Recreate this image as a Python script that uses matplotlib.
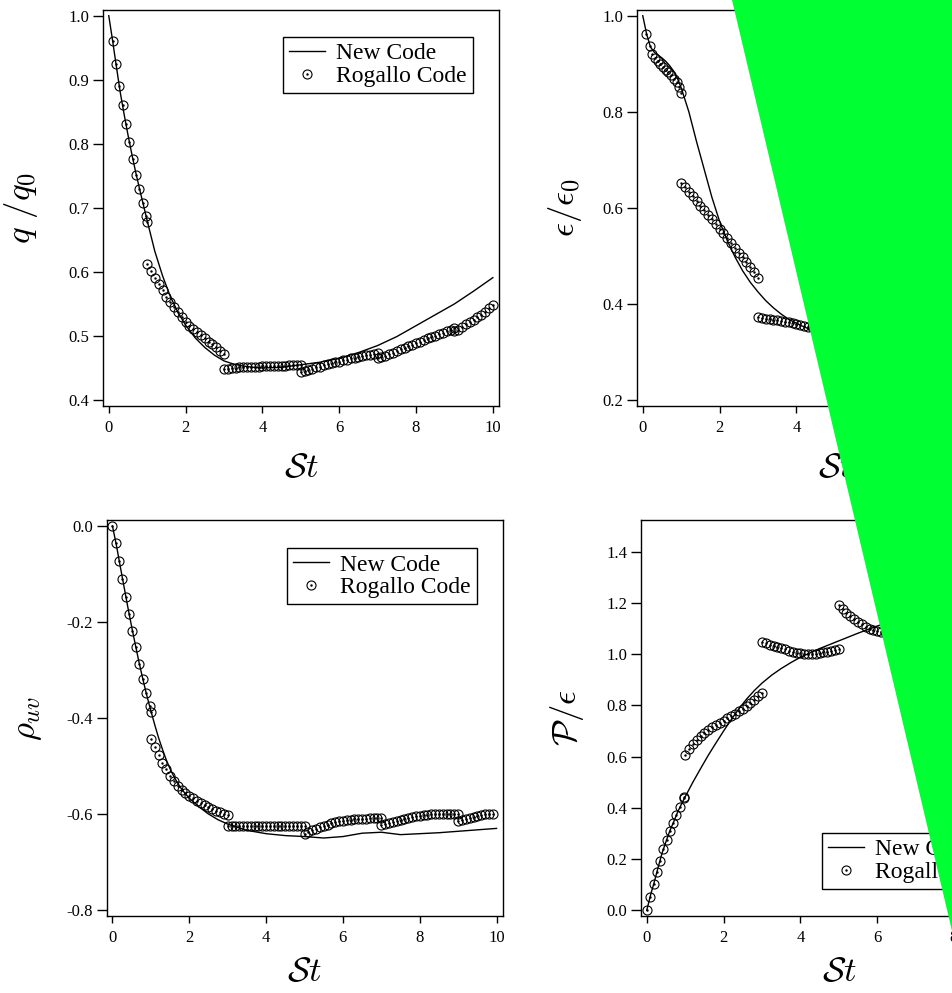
import matplotlib

matplotlib.use("Agg")
import matplotlib.pyplot as plt
from matplotlib.legend_handler import HandlerTuple
from matplotlib.patches import Polygon
from matplotlib.ticker import FormatStrFormatter

plt.rcParams["font.family"] = ["Liberation Serif", "DejaVu Serif"]
plt.rcParams["mathtext.fontset"] = "cm"
plt.rcParams["axes.unicode_minus"] = False

W, H = 952, 993
GREEN = "#00ff33"

# time grids of the Rogallo restarts (St)
T1 = [1.0, 1.1, 1.2, 1.3, 1.4, 1.5, 1.6, 1.7, 1.8, 1.9, 2.0, 2.1, 2.2, 2.3, 2.4, 2.5, 2.6, 2.7, 2.8, 2.9, 3.0]
T2 = [3.0, 3.1, 3.2, 3.3, 3.4, 3.5, 3.6, 3.7, 3.8, 3.9, 4.0, 4.1, 4.2, 4.3, 4.4, 4.5, 4.6, 4.7, 4.8, 4.9, 5.0]
T3 = [5.0, 5.1, 5.2, 5.3, 5.4, 5.5, 5.6, 5.7, 5.8, 5.9, 6.0, 6.1, 6.2, 6.3, 6.4, 6.5, 6.6, 6.7, 6.8, 6.9, 7.0]
T4 = [7.0, 7.1, 7.2, 7.3, 7.4, 7.5, 7.6, 7.7, 7.8, 7.9, 8.0, 8.1, 8.2, 8.3, 8.4, 8.5, 8.6, 8.7, 8.8, 8.9, 9.0]
T5 = [9.0, 9.1, 9.2, 9.3, 9.4, 9.5, 9.6, 9.7, 9.8, 9.9, 10.0]

# q/q0
q_line_t = [0.0, 0.1, 0.2, 0.3, 0.4, 0.5, 0.6, 0.7, 0.8, 0.9, 1.0, 1.2, 1.4, 1.6, 1.8, 2.0, 2.25, 2.5,
            2.75, 3.0, 3.25, 3.5, 3.75, 4.0, 4.5, 5.0, 5.5, 6.0, 6.5, 7.0, 7.5, 8.0, 8.5, 9.0, 9.5, 10.0]
q_line = [1.0, 0.961, 0.920, 0.880, 0.846, 0.814, 0.784, 0.756, 0.730, 0.705, 0.680, 0.632, 0.594, 0.562,
          0.537, 0.517, 0.497, 0.482, 0.470, 0.461, 0.456, 0.453, 0.451, 0.450, 0.451, 0.455, 0.459, 0.465,
          0.474, 0.485, 0.499, 0.516, 0.533, 0.550, 0.570, 0.591]
q_t0 = [0.10, 0.18, 0.27, 0.36, 0.45, 0.53, 0.62, 0.71, 0.80, 0.88, 0.97, 1.00]
q_r0 = [0.961, 0.925, 0.891, 0.860, 0.831, 0.803, 0.777, 0.752, 0.729, 0.708, 0.687, 0.678]
q_r1 = [0.612, 0.601, 0.591, 0.581, 0.571, 0.561, 0.553, 0.545, 0.537, 0.529, 0.522, 0.516, 0.511,
        0.506, 0.501, 0.496, 0.491, 0.487, 0.482, 0.477, 0.472]
q_r2 = [0.448, 0.449, 0.450, 0.450, 0.451, 0.451, 0.452, 0.452, 0.452, 0.452, 0.453, 0.453, 0.453,
        0.453, 0.453, 0.453, 0.453, 0.454, 0.454, 0.454, 0.454]
q_r3 = [0.443, 0.445, 0.447, 0.449, 0.451, 0.452, 0.454, 0.456, 0.457, 0.459, 0.460, 0.462, 0.463,
        0.465, 0.466, 0.467, 0.469, 0.470, 0.471, 0.472, 0.473]
q_r4 = [0.465, 0.467, 0.469, 0.472, 0.474, 0.476, 0.479, 0.481, 0.484, 0.486, 0.489, 0.491, 0.493,
        0.496, 0.498, 0.500, 0.503, 0.505, 0.507, 0.510, 0.512]
q_r5 = [0.507, 0.510, 0.514, 0.518, 0.521, 0.525, 0.529, 0.533, 0.538, 0.543, 0.548]

# eps/eps0 (right part hidden in the reference)
e_line_t = [0.0, 0.1, 0.2, 0.3, 0.4, 0.5, 0.6, 0.7, 0.8, 0.9, 1.0, 1.2, 1.4, 1.6, 1.8, 2.0, 2.2, 2.4,
            2.6, 2.8, 3.0, 3.2, 3.4, 3.6, 3.8, 4.0, 4.2, 4.4, 4.6]
e_line = [1.0, 0.962, 0.935, 0.924, 0.918, 0.912, 0.905, 0.896, 0.885, 0.870, 0.850, 0.800, 0.738,
          0.680, 0.622, 0.572, 0.532, 0.498, 0.469, 0.445, 0.425, 0.407, 0.392, 0.379, 0.368, 0.360,
          0.352, 0.346, 0.340]
e_t0 = [0.09, 0.18, 0.25, 0.32, 0.39, 0.46, 0.53, 0.60, 0.67, 0.74, 0.81, 0.88, 0.94, 0.99]
e_r0 = [0.962, 0.937, 0.921, 0.912, 0.906, 0.900, 0.894, 0.888, 0.882, 0.876, 0.869, 0.861, 0.851, 0.840]
e_r1 = [0.652, 0.643, 0.634, 0.624, 0.614, 0.604, 0.595, 0.585, 0.576, 0.567, 0.557, 0.547, 0.537,
        0.527, 0.517, 0.507, 0.497, 0.487, 0.476, 0.466, 0.455]
e_r2 = [0.372, 0.370, 0.369, 0.368, 0.367, 0.366, 0.365, 0.363, 0.362, 0.360, 0.359, 0.357, 0.355,
        0.353, 0.351, 0.349]

# rho_uv
r_line_t = [0.0, 0.1, 0.2, 0.3, 0.4, 0.5, 0.6, 0.7, 0.8, 0.9, 1.0, 1.1, 1.2, 1.3, 1.4, 1.5, 1.6, 1.7,
            1.8, 1.9, 2.0, 2.25, 2.5, 2.75, 3.0, 3.5, 4.0, 4.5, 5.0, 5.5, 6.0, 6.5, 7.0, 7.5, 8.0, 8.5,
            9.0, 9.5, 10.0]
r_line = [0.0, -0.039, -0.083, -0.126, -0.169, -0.210, -0.249, -0.287, -0.322, -0.355, -0.385, -0.414,
          -0.441, -0.465, -0.487, -0.506, -0.522, -0.536, -0.548, -0.558, -0.567, -0.585, -0.600,
          -0.612, -0.621, -0.634, -0.641, -0.645, -0.647, -0.650, -0.647, -0.640, -0.638, -0.643,
          -0.641, -0.639, -0.636, -0.633, -0.630]
r_t0 = [0.0, 0.095, 0.17, 0.26, 0.35, 0.43, 0.52, 0.61, 0.70, 0.79, 0.87, 0.98, 1.0]
r_r0 = [0.0, -0.036, -0.073, -0.110, -0.147, -0.183, -0.219, -0.252, -0.287, -0.318, -0.347, -0.375, -0.388]
r_r1 = [-0.443, -0.461, -0.478, -0.494, -0.507, -0.520, -0.531, -0.541, -0.549, -0.556, -0.562, -0.567,
        -0.572, -0.577, -0.581, -0.585, -0.589, -0.593, -0.596, -0.599, -0.602]
r_r2 = [-0.624, -0.625, -0.625, -0.625, -0.626, -0.626, -0.626, -0.626, -0.626, -0.626, -0.626, -0.626,
        -0.626, -0.626, -0.626, -0.626, -0.625, -0.625, -0.625, -0.624, -0.624]
r_r3 = [-0.641, -0.637, -0.634, -0.631, -0.628, -0.625, -0.622, -0.619, -0.617, -0.615, -0.614, -0.613,
        -0.612, -0.611, -0.611, -0.610, -0.610, -0.609, -0.609, -0.609, -0.609]
r_r4 = [-0.623, -0.621, -0.619, -0.617, -0.615, -0.613, -0.611, -0.609, -0.607, -0.605, -0.604, -0.603,
        -0.602, -0.601, -0.601, -0.600, -0.600, -0.600, -0.600, -0.600, -0.600]
r_r5 = [-0.614, -0.612, -0.610, -0.608, -0.607, -0.605, -0.603, -0.601, -0.600, -0.599]

# P/eps
p_line_t = [0.0, 0.1, 0.2, 0.3, 0.4, 0.5, 0.6, 0.7, 0.8, 0.9, 1.0, 1.2, 1.4, 1.6, 1.8, 2.0, 2.2, 2.4,
            2.6, 2.8, 3.0, 3.25, 3.5, 3.75, 4.0, 4.5, 5.0, 5.5, 6.0, 6.5]
p_line = [0.0, 0.060, 0.113, 0.170, 0.224, 0.268, 0.310, 0.345, 0.382, 0.414, 0.443, 0.500, 0.553,
          0.605, 0.653, 0.700, 0.745, 0.787, 0.825, 0.858, 0.887, 0.918, 0.944, 0.967, 0.988, 1.022,
          1.052, 1.082, 1.110, 1.135]
p_t0 = [0.0, 0.087, 0.18, 0.26, 0.34, 0.43, 0.52, 0.60, 0.69, 0.77, 0.87, 0.96, 0.98]
p_r0 = [0.0, 0.052, 0.101, 0.148, 0.194, 0.239, 0.276, 0.310, 0.342, 0.373, 0.405, 0.437, 0.441]
p_r1 = [0.605, 0.628, 0.648, 0.666, 0.680, 0.693, 0.704, 0.714, 0.723, 0.732, 0.741, 0.750, 0.759,
        0.768, 0.777, 0.787, 0.797, 0.809, 0.822, 0.836, 0.850]
p_r2 = [1.046, 1.042, 1.037, 1.033, 1.029, 1.024, 1.019, 1.014, 1.010, 1.006, 1.003, 1.001, 1.000,
        1.000, 1.002, 1.004, 1.007, 1.010, 1.013, 1.016, 1.020]
p_r3 = [1.192, 1.176, 1.161, 1.149, 1.138, 1.127, 1.116, 1.107, 1.099, 1.094, 1.090, 1.088, 1.087, 1.086]


def panel(fig, box, ylim, yticks, ylabel, line_t, line_v, segs, leg_xy, ylab_x, xlab_y):
    left, top = box
    ax = fig.add_axes([left / W, 1 - (top + 396) / H, 396 / W, 396 / H])
    (line,) = ax.plot(line_t, line_v, color="k", lw=1.0)
    for t, v in segs:
        (circ,) = ax.plot(t, v, "o", mfc="none", mec="k", ms=6.5, mew=0.8)
        (dot,) = ax.plot(t, v, ".", color="k", ms=1.5)
    ax.set_xlim(-0.15, 10.16)
    ax.set_ylim(*ylim)
    ax.set_xticks([0, 2, 4, 6, 8, 10])
    ax.set_yticks(yticks)
    ax.yaxis.set_major_formatter(FormatStrFormatter("%.1f"))
    ax.tick_params(axis="y", direction="out", length=7, width=1, labelsize=12, pad=3)
    ax.tick_params(axis="x", direction="out", length=5, width=1, labelsize=12, pad=5)
    for s in ax.spines.values():
        s.set_linewidth(1.0)
    ax.set_ylabel(ylabel, fontsize=25, va="center")
    ax.yaxis.set_label_coords(ylab_x, 0.5)
    ax.set_xlabel(r"$\mathcal{S}t$", fontsize=25, va="center")
    ax.xaxis.set_label_coords(0.5, xlab_y)
    leg = ax.legend([line, (circ, dot)], ["New Code", "Rogallo Code"],
                    handler_map={tuple: HandlerTuple(ndivide=1)},
                    loc="upper left", bbox_to_anchor=leg_xy, borderaxespad=0, fontsize=17,
                    fancybox=False, edgecolor="k", framealpha=1, handlelength=1.55,
                    handletextpad=0.45, labelspacing=0.05, borderpad=0.25)
    leg.get_frame().set_linewidth(1.0)
    return ax


fig = plt.figure(figsize=(W / 100, H / 100), dpi=100)

panel(fig, (103, 10), (0.3906, 1.0089), [0.4, 0.5, 0.6, 0.7, 0.8, 0.9, 1.0], r"$q\ /q_0$",
      q_line_t, q_line,
      [(q_t0, q_r0), (T1, q_r1), (T2, q_r2), (T3, q_r3), (T4, q_r4), (T5, q_r5)],
      (0.4545, 0.932), -0.206, -0.158)

panel(fig, (637, 10), (0.1875, 1.0119), [0.2, 0.4, 0.6, 0.8, 1.0], r"$\epsilon/\epsilon_0$",
      e_line_t, e_line,
      [(e_t0, e_r0), (T1, e_r1), (T2[:16], e_r2)],
      (0.4545, 0.932), -0.182, -0.158)

panel(fig, (106.7, 520), (-0.8125, 0.0125), [0.0, -0.2, -0.4, -0.6, -0.8], r"$\rho_{uv}$",
      r_line_t, r_line,
      [(r_t0, r_r0), (T1, r_r1), (T2, r_r2), (T3, r_r3), (T4, r_r4), (T5[:10], r_r5)],
      (0.455, 0.929), -0.200, -0.142)

panel(fig, (641, 520), (-0.0223, 1.524), [0.0, 0.2, 0.4, 0.6, 0.8, 1.0, 1.2, 1.4], r"$\mathcal{P}/\epsilon$",
      p_line_t, p_line,
      [(p_t0, p_r0), (T1, p_r1), (T2, p_r2), (T3[:14], p_r3)],
      (0.457, 0.2096), -0.187, -0.142)

# green block laid over the right-hand side of the figure (pixel corners, edge runs off the frame)
tri_px = [(731.7, 0), (1000, 0), (1000, 1134)]
tri = Polygon([(x / W, 1 - y / H) for x, y in tri_px], closed=True,
              transform=fig.transFigure, facecolor=GREEN, edgecolor="none", zorder=10)
fig.add_artist(tri)

fig.savefig("out.png", dpi=100)
